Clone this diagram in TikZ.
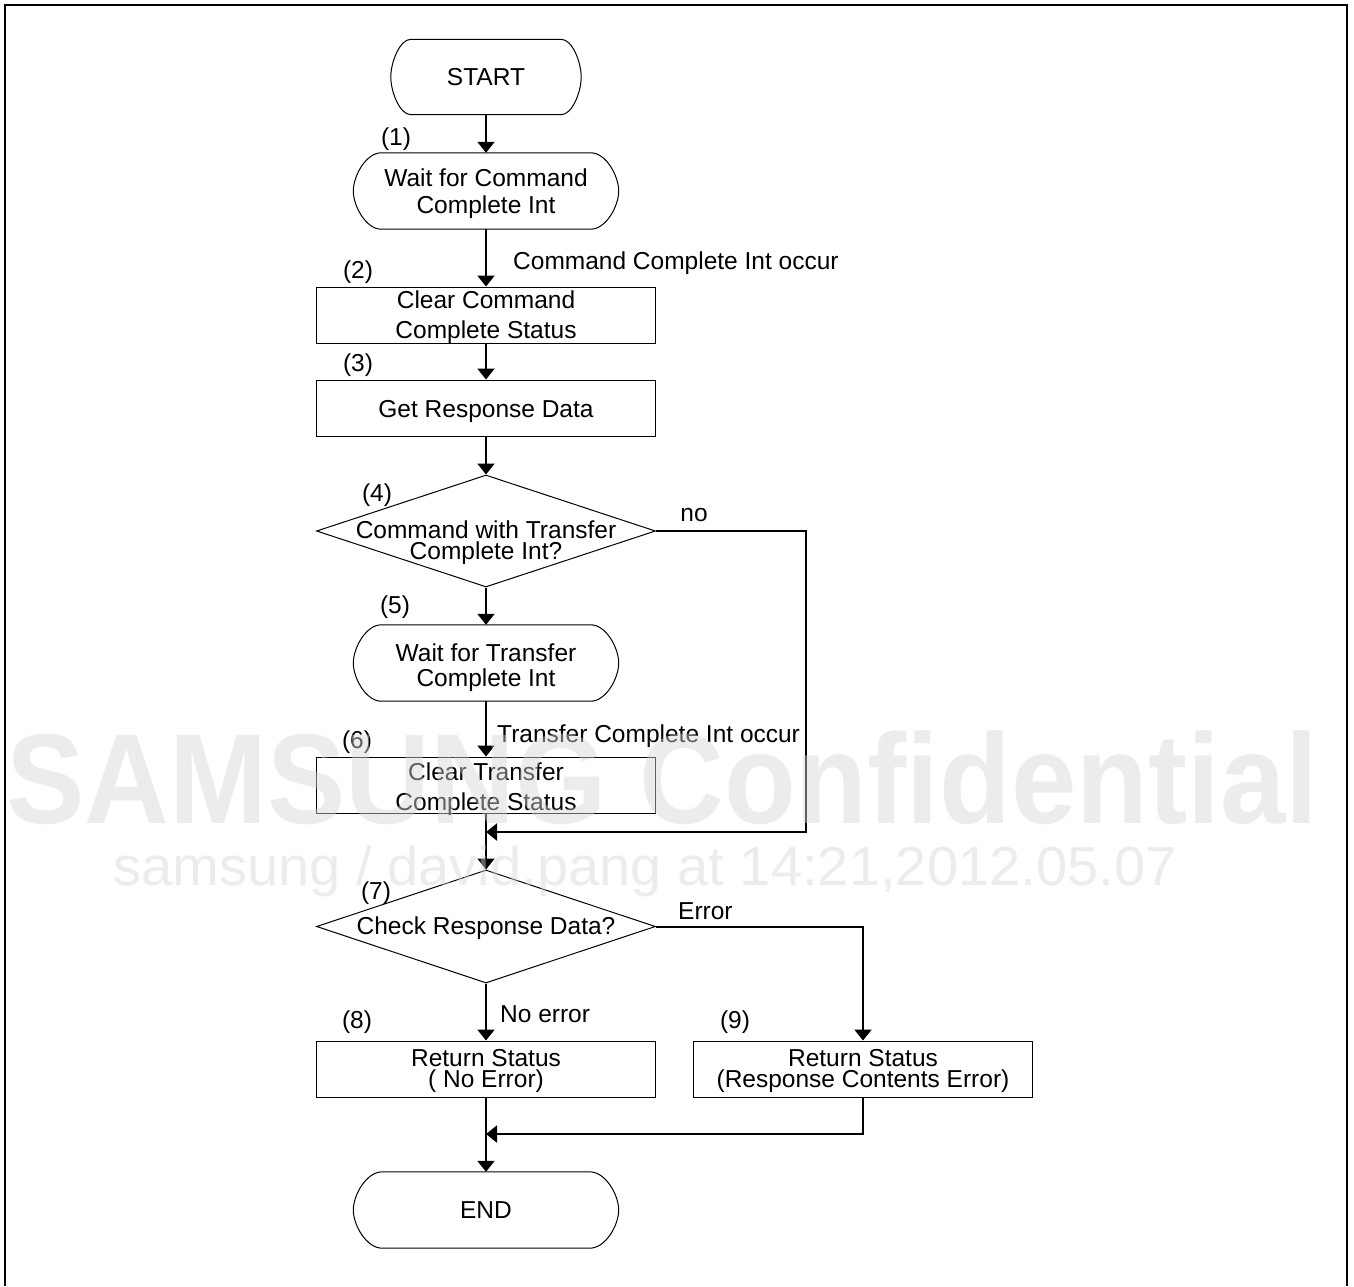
\documentclass[tikz,border=0pt]{standalone}
\usepackage{fontspec}
\setmainfont{Liberation Sans}
\usetikzlibrary{arrows.meta,shapes.geometric}
\definecolor{wm}{RGB}{215,215,215}
\tikzset{
  border/.style={line width=1pt, draw=black},
  flow/.style={line width=2pt, -{Triangle[width=17pt,length=11pt]}},
  txt/.style={font=\fontsize{24.5}{#1}\selectfont, inner sep=0pt, align=center},
  txt/.default=26,
  lbl/.style={font=\fontsize{24.5}{26}\selectfont, inner sep=0pt, anchor=base},
  lblw/.style={font=\fontsize{24.5}{26}\selectfont, inner sep=0pt, anchor=base west},
  procbox/.style={draw, line width=1pt, minimum width=339pt, minimum height=56pt, inner sep=0pt},
  termbox/.style={minimum width=265pt, minimum height=76pt, inner sep=0pt},
  decbox/.style={draw, diamond, line width=1pt, minimum width=339pt, minimum height=112pt, inner sep=0pt, shape aspect=3},
  wmark/.style={anchor=base west, inner sep=0pt, text=wm, opacity=0.45},
}
\newcommand\termshape[2]{%
  \draw[border] ([xshift=#2]#1.north west) -- ([xshift=-#2]#1.north east)
    .. controls ([xshift=-#2*0.45]#1.north east) and ([yshift=15pt]#1.east) .. (#1.east)
    .. controls ([yshift=-15pt]#1.east) and ([xshift=-#2*0.45]#1.south east) .. ([xshift=-#2]#1.south east)
    -- ([xshift=#2]#1.south west)
    .. controls ([xshift=#2*0.45]#1.south west) and ([yshift=-15pt]#1.west) .. (#1.west)
    .. controls ([yshift=15pt]#1.west) and ([xshift=#2*0.45]#1.north west) .. cycle;}
\begin{document}
\begin{tikzpicture}[x=1pt,y=1pt]
\fill[white] (0,0) rectangle (1354,-1286);
\useasboundingbox (0,0) rectangle (1354,-1286);
% frame
\draw[line width=2.8pt] (5,-1286) -- (5,-5) -- (1347,-5) -- (1347,-1286);

% shapes
\node[termbox, minimum width=190pt, minimum height=75pt] (start) at (486,-77) {};
\node[termbox] (wait1) at (486,-191) {};
\node[procbox] (box2) at (486,-315) {};
\node[procbox] (box3) at (486,-408) {};
\node[decbox] (dia4) at (486,-531) {};
\node[termbox] (wait2) at (486,-663) {};
\node[procbox] (box6) at (486,-785) {};
\coordinate (m1) at (486,-832);
\coordinate (nr) at (806,-832);
\node[decbox, minimum height=113pt] (dia7) at (486,-926.5) {};
\node[procbox] (box8) at (486,-1069) {};
\node[procbox] (box9) at (863,-1069) {};
\coordinate (m2) at (486,-1134);
\node[termbox] (end) at (486,-1210) {};
\termshape{start}{20pt}
\termshape{wait1}{28pt}
\termshape{wait2}{28pt}
\termshape{end}{29pt}

% texts
\node[txt] (ts) at (486,-77) {START};
\node[txt=27] (tw1) at (486,-194) {Wait for Command\\Complete Int};
\node[txt=30] (tb2) at (486,-317.5) {Clear Command\\Complete Status};
\node[txt] (tb3) at (486,-411.5) {Get Response Data};
\node[txt=21] (td4) at (486,-543) {Command with Transfer\\Complete Int?};
\node[txt=25] (tw2) at (486,-668) {Wait for Transfer\\Complete Int};
\node[txt=30] (tb6) at (486,-789.5) {Clear Transfer\\Complete Status};
\node[txt] (td7) at (486,-928.5) {Check Response Data?};
\node[txt=21] (tb8) at (486,-1071) {Return Status\\( No Error)};
\node[txt=21] (tb9) at (863,-1071) {Return Status\\(Response Contents Error)};
\node[txt] (te) at (486,-1210) {END};

% step numbers and labels
\node[lbl] (n1) at (396,-145) {(1)};
\node[lbl] (n2) at (358,-278) {(2)};
\node[lbl] (n3) at (358,-371) {(3)};
\node[lbl] (n4) at (377,-501) {(4)};
\node[lbl] (n5) at (395,-613) {(5)};
\node[lbl] (n6) at (357,-748) {(6)};
\node[lbl] (n7) at (376,-899) {(7)};
\node[lbl] (n8) at (357,-1028) {(8)};
\node[lbl] (n9) at (735,-1028) {(9)};
\node[lblw] (l1) at (513,-269) {Command Complete Int occur};
\node[lbl] (l2) at (694,-521) {no};
\node[lblw] (l3) at (497,-742) {Transfer Complete Int occur};
\node[lblw] (l4) at (678,-919) {Error};
\node[lblw] (l5) at (500,-1022) {No error};

% connectors
\draw[flow] (start.south) -- (wait1.north);
\draw[flow] (wait1.south) -- (box2.north);
\draw[flow] (box2.south) -- (box3.north);
\draw[flow] (box3.south) -- (dia4.north);
\draw[flow] (dia4.south) -- (wait2.north);
\draw[flow] (wait2.south) -- (box6.north);
\draw[flow] (dia4.east) -| (nr) -- (m1);
\draw[flow] (box6.south) -- (dia7.north);
\draw[flow] (dia7.east) -| (box9.north);
\draw[flow] (dia7.south) -- (box8.north);
\draw[flow] (box9.south) |- (m2);
\draw[flow] (box8.south) -- (end.north);

% watermark overlay
\node[wmark, font=\fontsize{128}{128}\selectfont\bfseries, xscale=0.918] (wm1) at (6,-823) {SAMSUNG Confidential};
\node[wmark, font=\fontsize{55}{55}\selectfont, xscale=1.02] (wm2) at (113,-885) {samsung / david.pang at 14:21,2012.05.07};
\end{tikzpicture}
\end{document}
